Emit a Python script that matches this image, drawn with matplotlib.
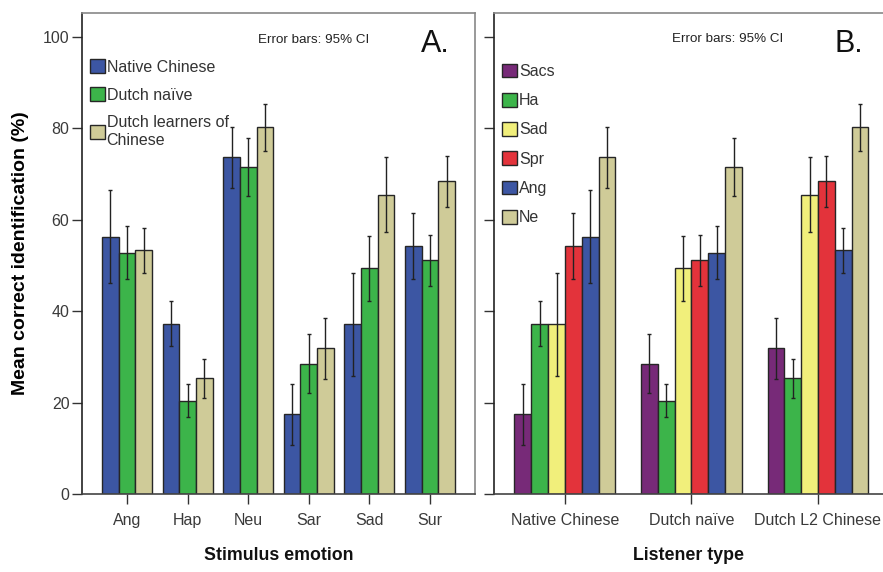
import matplotlib
matplotlib.use("Agg")
import matplotlib.pyplot as plt
import numpy as np
from matplotlib.patches import Patch

plt.rcParams['font.family'] = ['Liberation Sans', 'DejaVu Sans']

# ---------------- Data (Panel A) ----------------
emotions = ['Ang', 'Hap', 'Neu', 'Sar', 'Sad', 'Sur']
groups_a = ['Native Chinese', 'Dutch naïve', 'Dutch learners of\nChinese']

native_mean = [56.3, 37.3, 73.7, 17.4, 37.1, 54.3]
native_lo = [46.2, 32.4, 66.9, 10.7, 25.8, 47.1]
native_hi = [66.5, 42.2, 80.2, 24.0, 48.4, 61.4]

naive_mean = [52.7, 20.4, 71.6, 28.5, 49.4, 51.2]
naive_lo = [47.0, 16.9, 65.3, 22.0, 42.3, 45.5]
naive_hi = [58.6, 24.1, 77.8, 35.1, 56.5, 56.7]

learner_mean = [53.5, 25.4, 80.2, 31.9, 65.5, 68.4]
learner_lo = [48.4, 21.1, 75.1, 25.2, 57.3, 62.7]
learner_hi = [58.3, 29.5, 85.3, 38.6, 73.8, 74.0]

# ---------------- Panel B labels ----------------
listeners = ['Native Chinese', 'Dutch naïve', 'Dutch L2 Chinese']
emotions_b = ['Sacs', 'Ha', 'Sad', 'Spr', 'Ang', 'Ne']
# which Panel A emotion each Panel B series corresponds to
emotions_b_src = ['Sar', 'Hap', 'Sad', 'Sur', 'Ang', 'Neu']

colors_a = ['#3c56a3', '#3cb44a', '#cfcb98']
colors_b = ['#772a78', '#3cb44a', '#f1ef7b', '#e3333b', '#3c56a3', '#cfcb98']

means_a = np.array([native_mean, naive_mean, learner_mean])
lo_a = np.array([native_lo, naive_lo, learner_lo])
hi_a = np.array([native_hi, naive_hi, learner_hi])

W, H = 883, 572
fig = plt.figure(figsize=(W / 100, H / 100), dpi=100)

def px_axes(x0, x1, y0, y1):
    return fig.add_axes([x0 / W, 1 - y1 / H, (x1 - x0) / W, (y1 - y0) / H])

axA = px_axes(82, 475, 13, 494)
axB = px_axes(494, 883, 13, 494)

edge = '#262626'
ymax = 105.25
err_kw = dict(ecolor='#222222', elinewidth=1.0, capsize=1.6, capthick=1.0)

# Panel A
wA = 0.275
xA = np.arange(len(emotions))
for i in range(3):
    pos = xA + (i - 1) * wA
    m = means_a[i]
    yerr = np.vstack([m - lo_a[i], hi_a[i] - m])
    axA.bar(pos, m, width=wA, color=colors_a[i], edgecolor=edge, linewidth=1.0,
            yerr=yerr, error_kw=err_kw, zorder=2)
axA.set_xlim(-0.743, 5.743)
axA.set_ylim(0, ymax)
axA.set_xticks(xA)
axA.set_xticklabels(emotions)

# Panel B
wB = 0.133
xB = np.arange(len(listeners))
for j, src in enumerate(emotions_b_src):
    k = emotions.index(src)
    pos = xB + (j - 2.5) * wB
    m = means_a[:, k]
    yerr = np.vstack([m - lo_a[:, k], hi_a[:, k] - m])
    axB.bar(pos, m, width=wB, color=colors_b[j], edgecolor=edge, linewidth=1.0,
            yerr=yerr, error_kw=err_kw, zorder=2)
axB.set_xlim(-0.561, 2.514)
axB.set_ylim(0, ymax)
axB.set_xticks(xB)
axB.set_xticklabels(listeners)

for ax in (axA, axB):
    ax.set_yticks([0, 20, 40, 60, 80, 100])
    ax.tick_params(axis='both', direction='out', length=7.5, width=1.0,
                   color='#333333', labelsize=11.5, labelcolor='#3a3a3a')
    ax.tick_params(axis='y', pad=1.5)
    ax.tick_params(axis='x', pad=6)
    ax.spines['left'].set_color('#222222')
    ax.spines['bottom'].set_color('#444444')
    ax.spines['top'].set_color('#888888')
    ax.spines['right'].set_color('#888888')
    for s in ax.spines.values():
        s.set_linewidth(1.2)
axB.tick_params(axis='y', labelleft=False)
axB.spines['right'].set_visible(False)

axA.set_ylabel('Mean correct identification (%)', fontsize=14, fontweight='bold',
               labelpad=10)
axA.set_xlabel('Stimulus emotion', fontsize=12.8, fontweight='bold', labelpad=14,
               color='#111111')
axB.set_xlabel('Listener type', fontsize=12.8, fontweight='bold', labelpad=14,
               color='#111111')

axA.text(0.59, 0.944, 'Error bars: 95% CI', transform=axA.transAxes,
         ha='center', va='center', fontsize=9.6, color='#222222')
axB.text(0.60, 0.946, 'Error bars: 95% CI', transform=axB.transAxes,
         ha='center', va='center', fontsize=9.6, color='#222222')
axA.text(0.862, 0.936, 'A.', transform=axA.transAxes, ha='left', va='center',
         fontsize=22, color='#111111')
axB.text(0.876, 0.936, 'B.', transform=axB.transAxes, ha='left', va='center',
         fontsize=22, color='#111111')

handlesA = [Patch(facecolor=c, edgecolor=edge, linewidth=1.0) for c in colors_a]
legA = axA.legend(handlesA, groups_a, loc='upper left', bbox_to_anchor=(0.02, 0.904),
                  frameon=False, fontsize=11.5, handlelength=0.95, handleheight=0.95,
                  handletextpad=0.1, labelspacing=0.8, borderpad=0, borderaxespad=0)
for t in legA.get_texts():
    t.set_color('#333333')

handlesB = [Patch(facecolor=c, edgecolor=edge, linewidth=1.0) for c in colors_b]
legB = axB.legend(handlesB, emotions_b, loc='upper left', bbox_to_anchor=(0.0206, 0.895),
                  frameon=False, fontsize=11.5, handlelength=0.95, handleheight=0.95,
                  handletextpad=0.1, labelspacing=0.87, borderpad=0, borderaxespad=0)
for t in legB.get_texts():
    t.set_color('#333333')

fig.savefig('out.png', dpi=100)
